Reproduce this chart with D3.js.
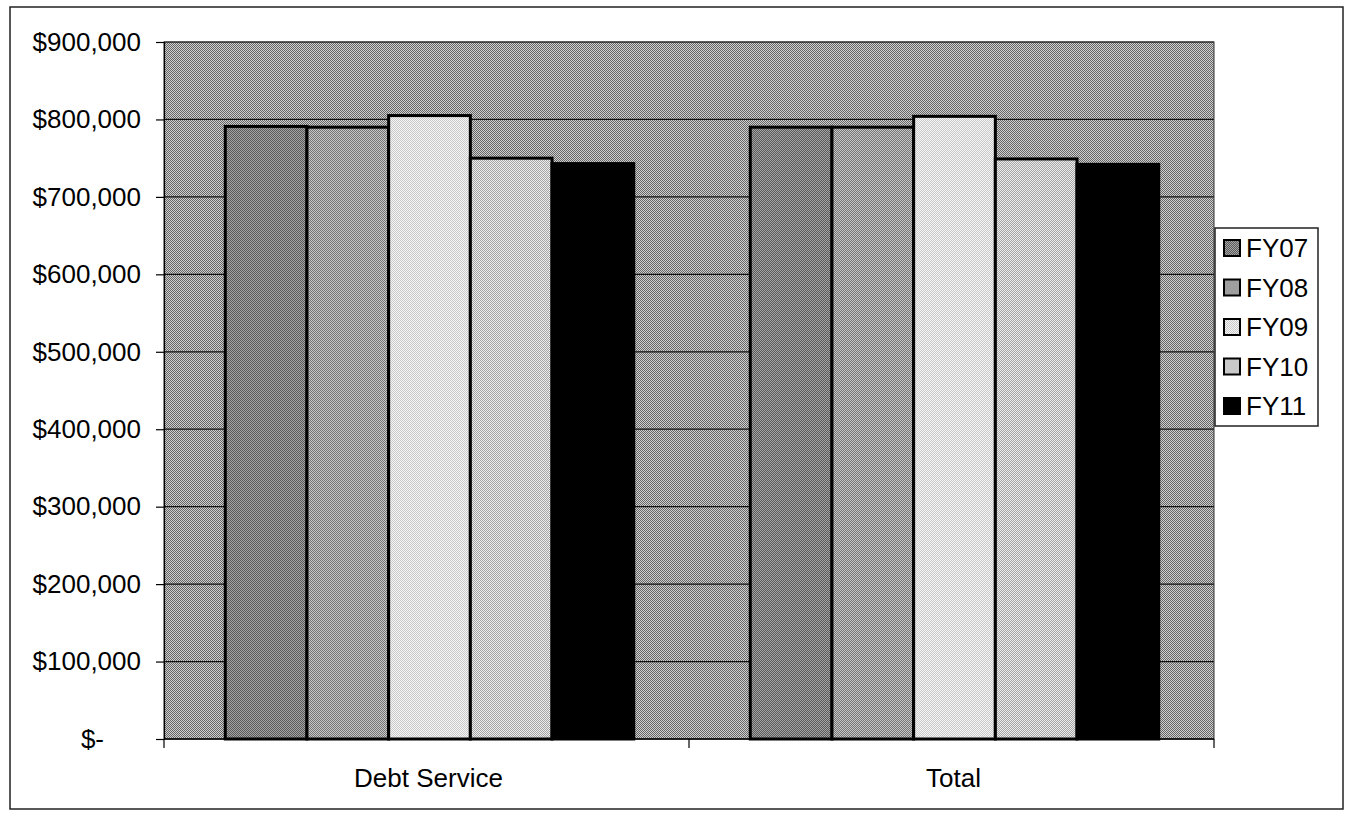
<!DOCTYPE html>
<html>
<head>
<meta charset="utf-8">
<script src="https://cdn.jsdelivr.net/npm/d3@7"></script>
<style>
  html, body { margin: 0; padding: 0; background: #fff; }
  svg { display: block; font-family: "Liberation Sans", Arial, sans-serif; }
</style>
</head>
<body>
<svg id="chart" width="1348" height="815"></svg>
<script>
// Budget categories and fiscal-year series
const categories = ["Debt Service", "Total"];
const seriesNames = ["FY07", "FY08", "FY09", "FY10", "FY11"];
const debtService = [791000, 790000, 805000, 750000, 743000];
const totals      = [790000, 790000, 804000, 749000, 742000];
const yTicks = [0, 100000, 200000, 300000, 400000, 500000, 600000, 700000, 800000, 900000];

const values = [debtService, totals];

const svg = d3.select("#chart");
const plot = { left: 164, right: 1214, top: 42, bottom: 739 };

// Halftone-like fills: two-tone checker patterns
const defs = svg.append("defs");
function checker(id, a, b) {
  const p = defs.append("pattern").attr("id", id)
    .attr("width", 2).attr("height", 2).attr("patternUnits", "userSpaceOnUse");
  p.append("rect").attr("width", 2).attr("height", 2).attr("fill", a);
  p.append("rect").attr("width", 1).attr("height", 1).attr("fill", b);
  p.append("rect").attr("x", 1).attr("y", 1).attr("width", 1).attr("height", 1).attr("fill", b);
  return `url(#${id})`;
}
const bgFill = checker("bg", "#d0d0d0", "#666666");
const seriesFills = [
  checker("s0", "#a4a4a4", "#5a5a5a"),
  checker("s1", "#c8c8c8", "#747474"),
  checker("s2", "#f6f6f6", "#c8c8c8"),
  checker("s3", "#ebebeb", "#a6a6a6"),
  "#000000"
];

// Outer chart border
svg.append("rect")
  .attr("x", 10).attr("y", 7).attr("width", 1333).attr("height", 802)
  .attr("fill", "#fff").attr("stroke", "#222").attr("stroke-width", 1.5);

const y = d3.scaleLinear().domain([0, 900000]).range([plot.bottom, plot.top]);
const x0 = d3.scaleBand().domain(categories).range([plot.left, plot.right]).padding(0);
const bw = x0.bandwidth();
const groupFrac = 0.778;
const x1 = d3.scaleBand().domain(seriesNames)
  .range([bw * (1 - groupFrac) / 2 + 3, bw * (1 + groupFrac) / 2 + 3]).padding(0);

// Plot area background
svg.append("rect")
  .attr("x", plot.left).attr("y", plot.top)
  .attr("width", plot.right - plot.left).attr("height", plot.bottom - plot.top)
  .attr("fill", bgFill);

// Horizontal gridlines
svg.append("g").selectAll("line")
  .data(yTicks.filter(d => d > 0))
  .join("line")
  .attr("x1", plot.left).attr("x2", plot.right)
  .attr("y1", d => y(d)).attr("y2", d => y(d))
  .attr("stroke", "#111").attr("stroke-width", 1.2);

// Plot area edges
svg.append("rect")
  .attr("x", plot.left).attr("y", plot.top)
  .attr("width", plot.right - plot.left).attr("height", plot.bottom - plot.top)
  .attr("fill", "none").attr("stroke", "#333").attr("stroke-width", 1);

// Bars
const groups = svg.append("g").selectAll("g")
  .data(categories)
  .join("g")
  .attr("transform", d => `translate(${x0(d)},0)`);

groups.selectAll("rect")
  .data((c, ci) => seriesNames.map((s, si) => ({ s, si, v: values[ci][si] })))
  .join("rect")
  .attr("x", d => x1(d.s))
  .attr("width", x1.bandwidth())
  .attr("y", d => y(d.v))
  .attr("height", d => y(0) - y(d.v))
  .attr("fill", d => seriesFills[d.si])
  .attr("stroke", "#000").attr("stroke-width", 3);

// Y axis
const yAxis = d3.axisLeft(y)
  .tickValues(yTicks)
  .tickSize(8).tickPadding(15)
  .tickFormat(d => d === 0 ? "$-" : d3.format("$,")(d));
const ya = svg.append("g").attr("transform", `translate(${plot.left},0)`).call(yAxis);
ya.select(".domain").attr("stroke", "#000").attr("stroke-width", 1.2);
ya.selectAll(".tick line").attr("stroke", "#000").attr("stroke-width", 1.2);
ya.selectAll(".tick text")
  .attr("font-size", 26).attr("fill", "#000")
  .attr("font-family", "'Liberation Sans', Arial, sans-serif");
// accounting format places the zero dash left of the digit column
ya.selectAll(".tick text").filter(d => d === 0).attr("dx", -37);

// X axis baseline with boundary ticks
svg.append("line")
  .attr("x1", plot.left).attr("x2", plot.right)
  .attr("y1", y(0)).attr("y2", y(0))
  .attr("stroke", "#000").attr("stroke-width", 1.5);
const bounds = [plot.left, ...categories.map(c => x0(c) + bw)];
svg.append("g").selectAll("line")
  .data(bounds)
  .join("line")
  .attr("x1", d => d).attr("x2", d => d)
  .attr("y1", y(0)).attr("y2", y(0) + 9)
  .attr("stroke", "#000").attr("stroke-width", 1.2);

svg.append("g").selectAll("text")
  .data(categories)
  .join("text")
  .attr("x", d => x0(d) + bw / 2 + 2)
  .attr("y", 787)
  .attr("text-anchor", "middle")
  .attr("font-size", 26)
  .attr("fill", "#000")
  .text(d => d);

// Legend
const legend = svg.append("g").attr("transform", "translate(1215,228)");
legend.append("rect")
  .attr("width", 103).attr("height", 198)
  .attr("fill", "#fff").attr("stroke", "#222").attr("stroke-width", 1.5);
const items = legend.selectAll("g")
  .data(seriesNames)
  .join("g")
  .attr("transform", (d, i) => `translate(0,${20 + i * 39.5})`);
items.append("rect")
  .attr("x", 9).attr("y", -8).attr("width", 16).attr("height", 16)
  .attr("fill", (d, i) => seriesFills[i])
  .attr("stroke", "#000").attr("stroke-width", 2);
items.append("text")
  .attr("x", 31).attr("y", 9)
  .attr("font-size", 26)
  .attr("fill", "#000")
  .text(d => d);
</script>
</body>
</html>
